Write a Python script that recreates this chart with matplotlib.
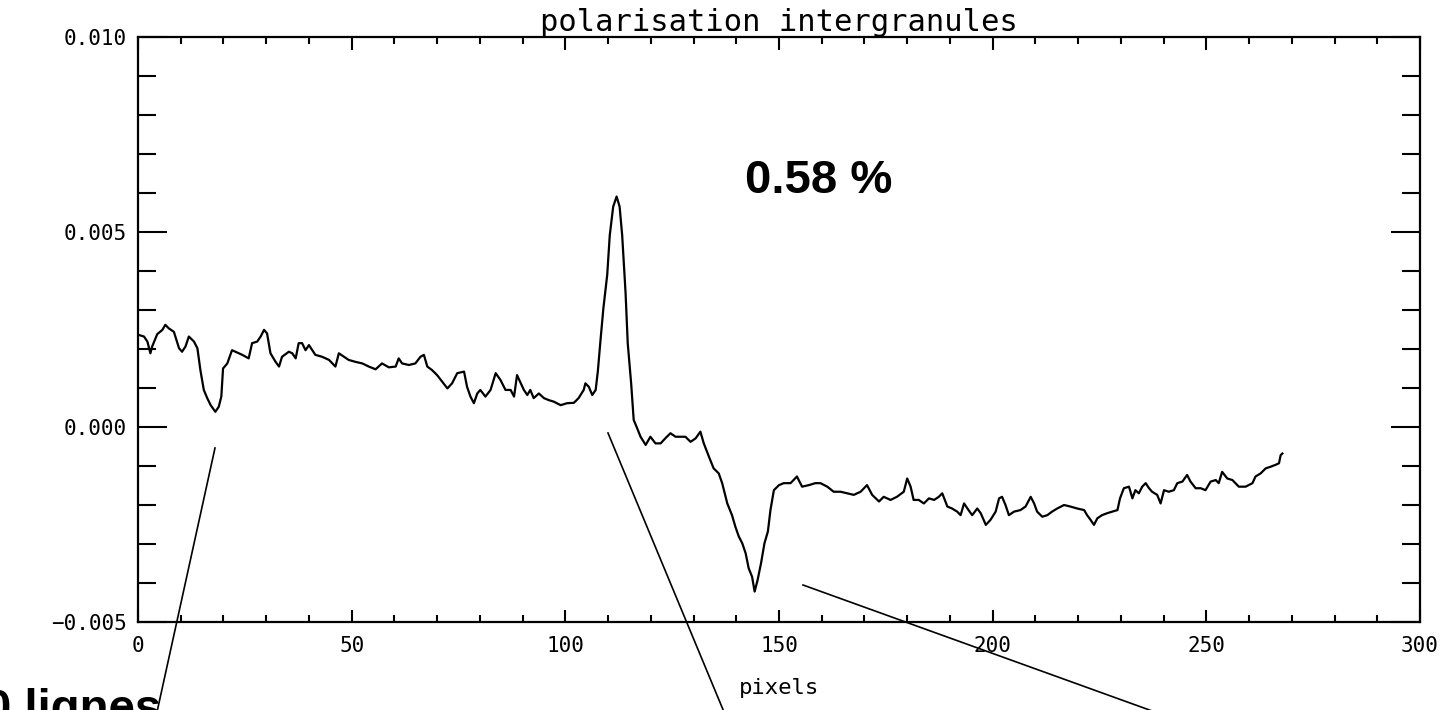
import numpy as np
import matplotlib
matplotlib.use("Agg")
import matplotlib.pyplot as plt
from matplotlib.lines import Line2D
from matplotlib.ticker import MultipleLocator, FuncFormatter

# ---- data (pixel index, polarisation in units of 1e-4) ----
x_seg1 = [0.2, 1.4, 2.2, 2.9, 3.3, 4.5, 5.7, 6.4, 7.2, 8.4, 9.6, 10.3, 11.1, 11.9, 13.1,
          13.9, 14.6, 15.4, 16.2, 17.0, 18.1, 18.9, 19.5, 19.9, 20.9, 21.6, 22.0, 22.8, 24.4, 25.9,
          26.7, 27.9, 28.7, 29.5, 30.2, 31.0, 32.2, 33.0, 33.7, 35.3, 36.1, 36.9, 37.6, 38.4, 39.2,
          40.0, 41.5, 43.1, 44.7, 46.2, 47.0, 48.2, 49.3, 50.9, 52.5, 54.0, 55.6, 57.1, 58.7, 60.3,
          61.0, 61.8, 63.4, 64.9, 66.1, 66.9, 67.7, 68.8, 70.0, 71.2, 72.4, 73.5, 74.7, 76.3, 77.0,
          77.8, 78.6, 79.4, 80.1, 81.3, 82.5, 83.7, 84.8, 86.0, 87.2, 88.0, 88.7]
p_seg1 = [23.6, 23.2, 21.9, 18.9, 20.6, 23.8, 24.9, 26.2, 25.3, 24.4, 20.2, 19.3, 20.6, 23.2, 21.9,
          20.2, 14.6, 9.5, 7.4, 5.6, 3.9, 5.2, 7.8, 15.0, 16.3, 18.5, 19.7, 19.3, 18.5, 17.6,
          21.5, 21.9, 23.2, 24.9, 24.0, 18.9, 16.7, 15.5, 18.0, 19.3, 18.9, 17.6, 21.5, 21.5, 19.7,
          21.0, 18.5, 18.0, 17.2, 15.5, 18.9, 18.0, 17.2, 16.7, 16.3, 15.5, 14.8, 16.3, 15.3, 15.5,
          17.6, 16.3, 15.9, 16.3, 18.0, 18.5, 15.5, 14.6, 13.3, 11.6, 9.9, 11.2, 13.8, 14.2, 10.3,
          7.8, 6.1, 8.6, 9.5, 7.8, 9.5, 13.8, 12.1, 9.5, 9.5, 7.8, 13.3]

x_seg2 = [90.3, 91.1, 91.8, 92.6, 93.8, 95.0, 96.1, 97.3, 98.9, 100.4, 102.0, 103.1, 104.3, 104.7, 105.5,
          106.3, 107.1, 107.6, 108.2, 108.9, 109.8, 110.4, 111.2, 112.0, 112.7, 113.3, 114.1, 114.6, 115.4, 116.0,
          116.8, 117.6, 118.8, 119.9, 121.1, 122.3, 123.4, 124.6, 125.8, 126.9, 128.1, 129.3, 130.5, 131.6, 132.4,
          133.6, 134.7, 135.9, 136.7, 137.9, 139.0, 139.8, 140.6, 141.4, 142.2, 142.9, 143.7, 144.3, 145.0, 145.8,
          146.6, 147.4, 148.0, 148.8, 150.0, 151.1, 152.7, 154.2, 155.4, 157.0, 158.5, 159.7, 161.3, 162.8, 164.4,
          165.9, 167.5, 169.1, 170.6, 171.8, 173.4, 174.5, 176.1, 177.6, 179.2, 180.0, 180.8, 181.5, 182.7]
p_seg2 = [9.5, 8.2, 9.5, 7.4, 8.6, 7.4, 6.9, 6.5, 5.6, 6.1, 6.2, 7.4, 9.5, 11.2, 10.3,
          8.2, 9.5, 14.2, 21.9, 30.4, 39.0, 49.2, 56.5, 59.1, 56.5, 49.2, 34.3, 21.5, 11.2, 1.8,
          -0.3, -2.5, -4.6, -2.5, -4.2, -4.2, -2.9, -1.6, -2.5, -2.5, -2.5, -3.8, -2.9, -1.2, -4.2,
          -7.6, -10.6, -11.9, -14.4, -19.6, -22.6, -25.6, -28.1, -29.8, -32.4, -36.2, -38.4, -42.2, -39.2, -34.9,
          -29.8, -26.8, -21.3, -16.2, -14.9, -14.4, -14.4, -12.7, -15.3, -14.9, -14.4, -14.4, -15.3, -16.6, -16.6,
          -17.0, -17.4, -16.6, -14.9, -17.4, -19.1, -17.9, -18.7, -17.9, -16.6, -13.2, -15.3, -18.7, -18.7]

x_seg3 = [183.9, 185.1, 186.3, 187.4, 188.2, 189.4, 190.5, 191.7, 192.5, 193.3, 194.1, 195.2, 196.4, 197.2, 198.4,
          199.5, 200.7, 201.5, 202.2, 203.0, 203.8, 205.0, 206.5, 207.7, 208.9, 209.7, 210.4, 211.6, 212.8, 213.9,
          215.1, 216.7, 218.2, 219.8, 221.4, 222.1, 222.9, 223.7, 224.5, 225.6, 226.8, 228.0, 229.2, 229.8, 230.7,
          231.9, 232.7, 233.4, 234.2, 235.0, 235.8, 236.6, 237.3, 238.5, 239.3, 240.1, 241.2, 242.4, 243.2, 244.4,
          245.5, 246.3, 247.5, 248.7, 249.8, 251.0, 252.2, 252.9, 253.7, 254.9, 256.1, 257.6, 259.2, 260.8, 261.5,
          262.7, 263.9, 265.0, 266.2, 267.0, 267.4, 267.8]
p_seg3 = [-19.6, -18.3, -18.7, -17.9, -17.0, -20.4, -20.9, -21.7, -22.6, -19.6, -20.9, -22.6, -20.9, -22.1, -25.1,
          -23.8, -21.7, -18.3, -17.9, -20.0, -22.6, -21.7, -21.3, -20.4, -17.9, -19.6, -21.7, -23.0, -22.6, -21.7,
          -20.9, -20.0, -20.4, -20.9, -21.3, -22.6, -23.8, -25.1, -23.4, -22.6, -22.1, -21.7, -21.3, -18.3, -15.7,
          -15.3, -18.3, -16.2, -17.0, -15.3, -14.4, -15.7, -16.6, -17.4, -19.6, -16.2, -16.6, -16.2, -14.4, -14.0,
          -12.3, -14.0, -15.7, -15.7, -16.2, -14.0, -13.6, -14.4, -11.5, -13.2, -13.6, -15.3, -15.3, -14.4, -12.7,
          -11.9, -10.6, -10.2, -9.7, -9.3, -7.2, -6.8]

x_ticks = [0, 50, 100, 150, 200, 250, 300]
y_ticks = [-0.005, 0.000, 0.005, 0.010]
title_text = "polarisation intergranules"
xlabel_text = "pixels"
value_text = "0.58 %"
lines_text = "0 lignes"

pixels = np.array(x_seg1 + x_seg2 + x_seg3)
polar = np.array(p_seg1 + p_seg2 + p_seg3) * 1e-4

# ---- figure ----
W, H = 1451, 710
fig = plt.figure(figsize=(W / 100, H / 100), dpi=100)
ax = fig.add_axes([138 / W, 1 - 622 / H, (1420 - 138) / W, (622 - 37) / H])

ax.plot(pixels, polar, color="black", lw=1.6)

ax.set_xlim(0, 300)
ax.set_ylim(-0.005, 0.010)
ax.set_xticks(x_ticks)
ax.set_yticks(y_ticks)
ax.xaxis.set_minor_locator(MultipleLocator(10))
ax.yaxis.set_minor_locator(MultipleLocator(0.001))
ax.yaxis.set_major_formatter(FuncFormatter(lambda v, p: f"{v:.3f}".replace("-", "\u2212")))

mono = "DejaVu Sans Mono"
ax.tick_params(axis="both", which="both", direction="in", top=True, right=True,
               width=1.5, color="black")
ax.tick_params(axis="y", which="major", length=21, pad=8, labelsize=15)
ax.tick_params(axis="y", which="minor", length=13)
ax.tick_params(axis="x", which="major", length=9, pad=10, labelsize=15)
ax.tick_params(axis="x", which="minor", length=5)
for lab in ax.get_xticklabels() + ax.get_yticklabels():
    lab.set_family(mono)
for sp in ax.spines.values():
    sp.set_linewidth(1.6)

ax.set_title(title_text, family=mono, fontsize=22, pad=4)
ax.set_xlabel(xlabel_text, family=mono, fontsize=16, labelpad=16)

fig.text(745 / W, 1 - 193 / H, value_text, family="Liberation Sans", weight="bold",
         fontsize=34, ha="left", va="baseline")
fig.text(-15 / W, 1 - 722 / H, lines_text, family="Liberation Sans", weight="bold",
         fontsize=34, ha="left", va="baseline")

# annotation pointer lines (figure coordinates)
for (x0, y0, x1, y1) in [(215, 448, 157, 712), (608, 433, 724, 712), (803, 585, 1155, 712)]:
    fig.add_artist(Line2D([x0 / W, x1 / W], [1 - y0 / H, 1 - y1 / H],
                          transform=fig.transFigure, color="black", lw=1.2))

fig.savefig("out.png", dpi=100)
